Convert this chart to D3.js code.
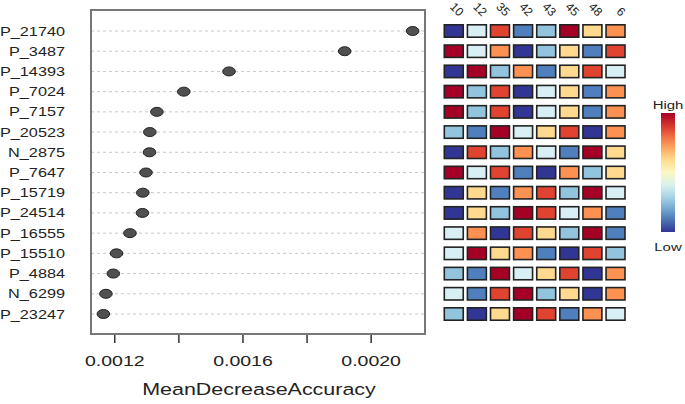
<!DOCTYPE html>
<html>
<head>
<meta charset="utf-8">
<script src="https://cdn.jsdelivr.net/npm/d3@7"></script>
<style>
  body { margin: 0; background: #fff; }
  text { font-family: "Liberation Sans", Arial, sans-serif; fill: #222; }
</style>
</head>
<body>
<svg id="chart" width="685" height="404"></svg>
<script>
// features, ordered top to bottom
var rowLabels = ["P_21740", "P_3487", "P_14393", "P_7024", "P_7157", "P_20523", "N_2875", "P_7647",
                 "P_15719", "P_24514", "P_16555", "P_15510", "P_4884", "N_6299", "P_23247"];
var importance = [0.002131, 0.001919, 0.001558, 0.001417, 0.001333, 0.001311, 0.001310, 0.001299,
                  0.001289, 0.001288, 0.001249, 0.001207, 0.001197, 0.001174, 0.001166];
var sampleLabels = ["10", "12", "35", "42", "43", "45", "48", "6"];
// relative level per sample (1 = low, 8 = high)
var heatValues = [
    [1, 4, 7, 2, 3, 8, 5, 6],
    [8, 4, 6, 1, 3, 5, 2, 7],
    [1, 8, 3, 6, 2, 5, 7, 4],
    [8, 3, 7, 1, 4, 5, 2, 6],
    [8, 3, 7, 1, 4, 5, 2, 6],
    [3, 2, 8, 4, 5, 7, 1, 6],
    [1, 7, 3, 6, 4, 2, 8, 5],
    [8, 4, 7, 2, 1, 6, 3, 5],
    [1, 5, 2, 6, 7, 3, 8, 4],
    [1, 5, 3, 8, 7, 4, 6, 2],
    [4, 6, 1, 7, 5, 3, 8, 2],
    [4, 8, 5, 6, 2, 1, 7, 3],
    [3, 2, 8, 4, 5, 7, 1, 6],
    [4, 2, 7, 8, 3, 5, 1, 6],
    [3, 1, 5, 8, 7, 2, 6, 4]
];
var xTicks = [0.0012, 0.0014, 0.0016, 0.0018, 0.0020];
var xTickLabels = ["0.0012", "", "0.0016", "", "0.0020"];

var palette = ["#313695", "#4f80bd", "#92c4de", "#d9eff6", "#fed98e", "#fc9152", "#e0432f", "#a50026"];
var stretch = 1.3; // picture is wider than tall, text too

var svg = d3.select("#chart");
var box = { left: 91, right: 425, top: 10, bottom: 334 };

// x-range like dotchart: 4% extra on both ends
var lo = d3.min(importance), hi = d3.max(importance), pad = (hi - lo) * 0.04;
var x = d3.scaleLinear().domain([lo - pad, hi + pad]).range([box.left, box.right]);
var y = d3.scalePoint().domain(rowLabels).range([31, 314]);

function wideText(g, px, py, str, size, anchor) {
    return g.append("text")
        .attr("transform", "translate(" + px + "," + py + ") scale(" + stretch + ",1)")
        .attr("text-anchor", anchor)
        .style("font-size", size + "px")
        .text(str);
}

// grid lines
svg.append("g").selectAll("line")
    .data(rowLabels)
    .enter()
    .append("line")
    .attr("x1", box.left).attr("x2", box.right)
    .attr("y1", function(d) { return y(d) }).attr("y2", function(d) { return y(d) })
    .attr("stroke", "#c8c8c8")
    .attr("stroke-width", 1)
    .attr("stroke-dasharray", "3,3");

// row labels
rowLabels.forEach(function(d) {
    wideText(svg, 65, y(d) + 4.5, d, 12.5, "end");
});

// dots
svg.append("g").selectAll("ellipse")
    .data(importance)
    .enter()
    .append("ellipse")
    .attr("cx", function(d) { return x(d) })
    .attr("cy", function(d, i) { return y(rowLabels[i]) })
    .attr("rx", 6.3)
    .attr("ry", 4.5)
    .attr("fill", "#505050")
    .attr("stroke", "#222")
    .attr("stroke-width", 1);

// box
svg.append("rect")
    .attr("x", box.left).attr("y", box.top)
    .attr("width", box.right - box.left).attr("height", box.bottom - box.top)
    .attr("fill", "none")
    .attr("stroke", "#777")
    .attr("stroke-width", 2);

// x axis
var axis = svg.append("g")
    .attr("transform", "translate(0," + (box.bottom + 1) + ")")
    .call(d3.axisBottom(x).tickValues(xTicks).tickSize(8).tickPadding(12)
        .tickFormat(function(d, i) { return xTickLabels[i] }));
axis.select(".domain").remove();
axis.selectAll(".tick line").attr("stroke", "#333").attr("stroke-width", 1.5);
axis.selectAll(".tick text")
    .attr("transform", "scale(" + stretch + ",1)")
    .style("font-size", "15px")
    .style("font-family", "Liberation Sans, Arial, sans-serif")
    .attr("fill", "#222");

wideText(svg, (box.left + box.right) / 2 + 1, 395, "MeanDecreaseAccuracy", 16.5, "middle");

// heatmap
var cx = d3.scaleBand().domain(sampleLabels).range([444.3, 625]).paddingInner(0.18).paddingOuter(0);
var color = d3.scaleOrdinal().domain([1, 2, 3, 4, 5, 6, 7, 8]).range(palette);
var cellH = 12.4;

heatValues.forEach(function(row, r) {
    svg.append("g").selectAll("rect")
        .data(row)
        .enter()
        .append("rect")
        .attr("x", function(d, i) { return cx(sampleLabels[i]) })
        .attr("y", y(rowLabels[r]) - cellH / 2)
        .attr("width", cx.bandwidth())
        .attr("height", cellH)
        .attr("fill", function(d) { return color(d) })
        .attr("stroke", "#222")
        .attr("stroke-width", 1.6);
});

// sample labels, slanted down to the right, ending above their column
svg.append("g").selectAll("text")
    .data(sampleLabels)
    .enter()
    .append("text")
    .attr("transform", function(d) {
        return "translate(" + (cx(d) + cx.bandwidth() / 2 + 5) + ",17) rotate(45)";
    })
    .attr("text-anchor", "end")
    .style("font-size", "12px")
    .text(function(d) { return d });

// legend
var defs = svg.append("defs");
var grad = defs.append("linearGradient")
    .attr("id", "legendGrad")
    .attr("x1", "0").attr("y1", "1").attr("x2", "0").attr("y2", "0");
d3.range(0, 1.0001, 0.1).forEach(function(t) {
    grad.append("stop")
        .attr("offset", t)
        .attr("stop-color", d3.interpolateRdYlBu(1 - t));
});
svg.append("rect")
    .attr("x", 661).attr("y", 113)
    .attr("width", 14).attr("height", 119)
    .attr("fill", "url(#legendGrad)");
wideText(svg, 668, 109, "High", 11.5, "middle");
wideText(svg, 668, 251, "Low", 11.5, "middle");
</script>
</body>
</html>
